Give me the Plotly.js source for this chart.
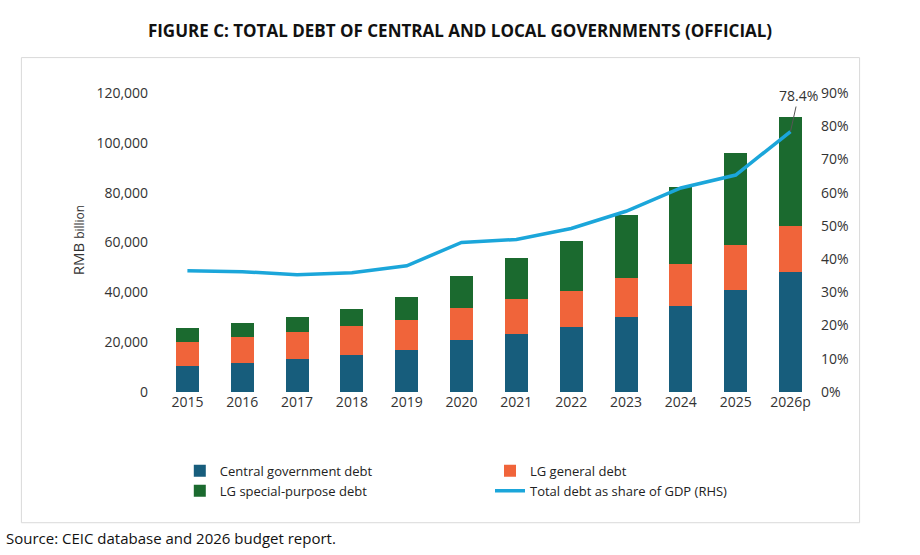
<!DOCTYPE html>
<html><head><meta charset="utf-8">
<script src="https://cdn.plot.ly/plotly-3.0.1.min.js"></script>
<style>body{margin:0;background:#fff}#c{width:920px;height:555px}</style>
</head><body><div id="c"></div>
<script>
const years   = ['2015','2016','2017','2018','2019','2020','2021','2022','2023','2024','2025','2026p'];
const central = [10500,11800,13400,15000,17000,20700,23100,25900,30000,34500,40900,48200];
const lgGen   = [9400,10100,10500,11300,11800,12900,14200,14600,15800,17000,17900,18300];
const lgSpec  = [5600,5700,6100,6900,9300,13000,16600,20300,25100,30800,37300,43800];
const shareGdp = [36.5,36.2,35.3,35.9,38.0,45.0,45.9,49.2,54.4,61.4,65.3,78.4];

const FONT = 'Open Sans, Liberation Sans, sans-serif';
const last = years.length - 1;

Plotly.newPlot('c', [
  { type:'bar', x:years, y:central, name:'Central government debt', marker:{color:'#175d7c'} },
  { type:'bar', x:years, y:lgGen, name:'LG general debt', marker:{color:'#f0643a'} },
  { type:'bar', x:years, y:lgSpec, name:'LG special-purpose debt', marker:{color:'#1b6a2f'} },
  { type:'scatter', mode:'lines', x:years, y:shareGdp, yaxis:'y2', name:'Total debt as share of GDP (RHS)',
    line:{color:'#1ba6da', width:3.5} },
], {
  barmode:'stack', bargap:0.58,
  paper_bgcolor:'#fff', plot_bgcolor:'#fff',
  font:{family:FONT, color:'#404040', size:14},
  margin:{t:88, r:100, b:163, l:160},
  title:{text:'<b>FIGURE C: TOTAL DEBT OF CENTRAL AND LOCAL GOVERNMENTS (OFFICIAL)</b>',
    font:{size:17, color:'#111'}, x:0.5, xanchor:'center', y:0.955},
  xaxis:{type:'category', showgrid:false, zeroline:false, showline:false, ticks:'', tickfont:{size:14, color:'#333'}},
  yaxis:{range:[0,122000], dtick:20000, tickformat:',', showgrid:false, zeroline:false,
    ticksuffix:'   ', tickfont:{size:14, color:'#333'},
    title:{text:'RMB <span style="font-size:12px">billion</span>', font:{size:15, color:'#333'}, standoff:8}},
  yaxis2:{overlaying:'y', side:'right', range:[0,91.5], dtick:10, ticksuffix:'%', showgrid:false,
    zeroline:false, tickfont:{size:14, color:'#333'}},
  legend:{orientation:'h', x:0.03, y:-0.21, xanchor:'left', yanchor:'top', entrywidth:0.47,
    entrywidthmode:'fraction', traceorder:'normal', font:{size:13, color:'#222'}},
  annotations:[
    { x:years[last], y:shareGdp[last], xref:'x', yref:'y2', text:shareGdp[last].toFixed(1)+'%',
      showarrow:true, arrowhead:0, arrowcolor:'#555', arrowwidth:1, ax:8, ay:-36,
      font:{size:14, color:'#333'} },
    { x:0, xref:'paper', xanchor:'left', xshift:-156, y:0, yref:'paper', yshift:-158, yanchor:'bottom',
      text:'Source: CEIC database and 2026 budget report.', showarrow:false, font:{size:15, color:'#111'} },
  ],
  shapes:[{type:'rect', xref:'paper', yref:'paper', x0:-0.21, x1:1.06, y0:-0.43, y1:1.1,
    line:{color:'#d9d9d9', width:1}}],
}, {displayModeBar:false});
</script></body></html>
